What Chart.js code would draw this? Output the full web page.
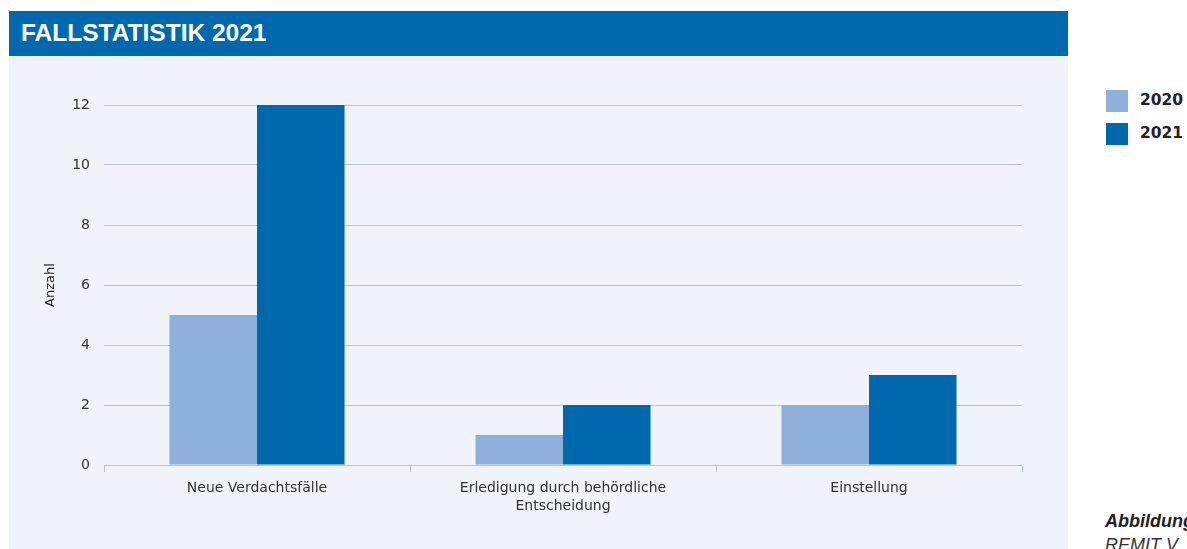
<!DOCTYPE html>
<html>
<head>
<meta charset="utf-8">
<script src="https://cdn.jsdelivr.net/npm/chart.js@4.4.1/dist/chart.umd.min.js"></script>
<style>
  html, body { margin: 0; padding: 0; background: #ffffff; width: 1187px; height: 549px; overflow: hidden; }
  body { position: relative; font-family: "DejaVu Sans", sans-serif; }
  #header { position: absolute; left: 9px; top: 11px; width: 1059px; height: 45px; background: #0069AD; }
  #header span { position: absolute; left: 12px; top: 8px; color: #fff; font-family: "Liberation Sans", Arial, sans-serif; font-weight: bold; font-size: 24.5px; }
  #panel { position: absolute; left: 9px; top: 56px; width: 1059px; height: 493px; background: #F0F3F9; }
  #chart { position: absolute; left: 0; top: 0; }
  #legend { position: absolute; left: 1106px; top: 90px; }
  .li { position: relative; height: 33px; }
  .sw { position: absolute; left: 0; top: 0; width: 22px; height: 22px; }
  .lt { position: absolute; left: 34px; top: 1px; font-size: 15.5px; font-weight: bold; color: #222; }
  #cap1 { position: absolute; left: 1105px; top: 511px; font-family: "Liberation Sans", Arial, sans-serif; font-size: 18px; font-weight: bold; font-style: italic; color: #222; white-space: nowrap; }
  #cap2 { position: absolute; left: 1105px; top: 535px; font-family: "Liberation Sans", Arial, sans-serif; font-size: 18px; font-style: italic; color: #333; white-space: nowrap; }
</style>
</head>
<body>
<div id="header"><span>FALLSTATISTIK 2021</span></div>
<div id="panel"><canvas id="chart" width="1059" height="493"></canvas></div>
<div id="legend"></div>
<div id="cap1">Abbildung</div>
<div id="cap2">REMIT V</div>
<script>
const categories = [["Neue Verdachtsfälle"], ["Erledigung durch behördliche", "Entscheidung"], ["Einstellung"]];
const seriesNames = ["2020", "2021"];
const values2020 = [5, 1, 2];
const values2021 = [12, 2, 3];
const seriesColors = ["#8FB0DA", "#0069AD"];
const yTicks = [0, 2, 4, 6, 8, 10, 12];
const axisTitle = "Anzahl";

const gridColor = "#B7C3DD";
const tickFont = { family: "DejaVu Sans", size: 14, lineHeight: 1.28 };
const chart = new Chart(document.getElementById("chart"), {
  type: "bar",
  data: {
    labels: categories,
    datasets: [
      { label: seriesNames[0], data: values2020, backgroundColor: seriesColors[0], borderWidth: 0 },
      { label: seriesNames[1], data: values2021, backgroundColor: seriesColors[1], borderWidth: 0 }
    ]
  },
  options: {
    responsive: false,
    devicePixelRatio: 1,
    animation: false,
    layout: { padding: { left: 0, right: 46, top: 49, bottom: 0 } },
    plugins: { legend: { display: false }, tooltip: { enabled: false } },
    datasets: { bar: { categoryPercentage: 0.572, barPercentage: 1.0 } },
    scales: {
      x: {
        grid: { display: true, drawOnChartArea: false, drawTicks: true, tickLength: 7, color: gridColor, lineWidth: 1, offset: true },
        border: { display: true, color: gridColor, width: 1 },
        ticks: { color: "#333", font: tickFont, padding: 7, maxRotation: 0, autoSkip: false },
        afterFit: (s) => { s.height = 84; }
      },
      y: {
        min: 0, max: 12,
        afterBuildTicks: (s) => { s.ticks = yTicks.map(v => ({ value: v })); },
        grid: { color: gridColor, lineWidth: 1, drawTicks: false },
        border: { display: false },
        ticks: { color: "#333", font: { family: "DejaVu Sans", size: 14 }, padding: 14 },
        title: { display: true, text: axisTitle, color: "#222", font: { family: "DejaVu Sans", size: 13 }, padding: { top: 34, bottom: 0 } },
        afterFit: (s) => { s.width = 95; }
      }
    }
  }
});

const lg = document.getElementById("legend");
seriesNames.forEach((n, i) => {
  const d = document.createElement("div"); d.className = "li";
  d.innerHTML = '<div class="sw" style="background:' + seriesColors[i] + '"></div><div class="lt">' + n + '</div>';
  lg.appendChild(d);
});
</script>
</body>
</html>
